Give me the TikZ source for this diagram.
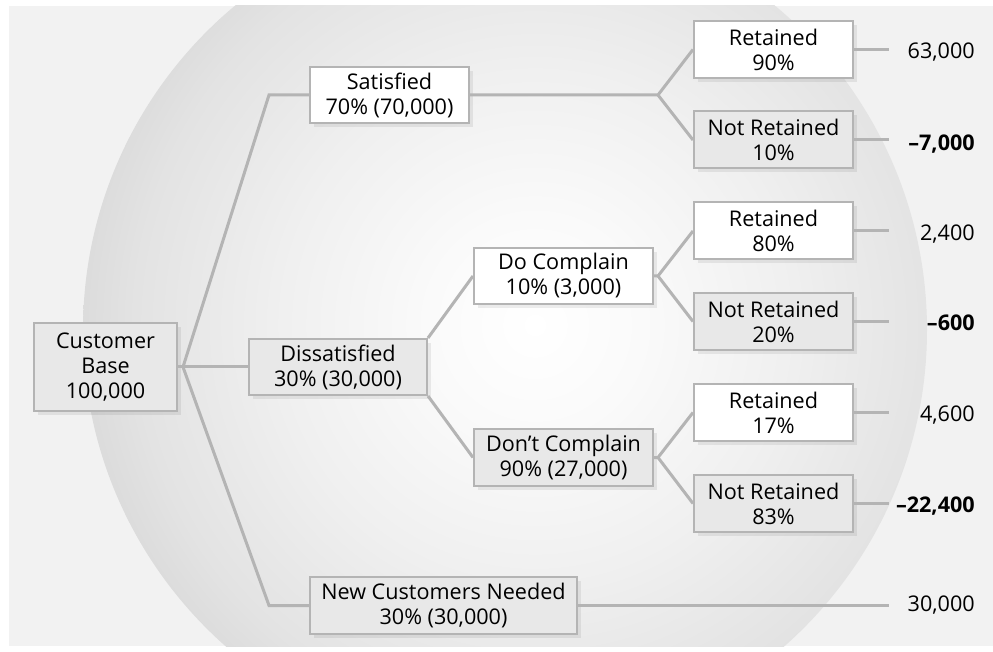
\documentclass[tikz,border=0pt]{standalone}
\usepackage{fontspec}
\setmainfont{Open Sans}
\usetikzlibrary{shadows,calc}

\definecolor{edgegray}{HTML}{B4B4B4}
\definecolor{boxgray}{HTML}{E8E8E8}
\definecolor{pagegray}{HTML}{F2F2F2}

% soft glow behind the tree: bright centre fading to a grey rim
\pgfdeclareradialshading{bgglow}{\pgfpoint{0bp}{0bp}}{%
  color(0bp)=(white);
  color(6bp)=(white!98!black);
  color(14bp)=(white!94!black);
  color(22bp)=(white!89!black);
  color(25bp)=(white!86!black);
  color(50bp)=(white!86!black)}

\begin{document}
\begin{tikzpicture}[x=0.75pt,y=-0.75pt,
  txt/.style={font=\fontsize{16.2}{18.75}\selectfont, text=black},
  box/.style={txt, draw=edgegray, line width=1.5pt, align=center,
    inner sep=0pt, fill=white,
    drop shadow={shadow xshift=3pt, shadow yshift=-3pt, fill=black, opacity=0.07}},
  wbox/.style={box, fill=white},
  gbox/.style={box, fill=boxgray},
  link/.style={draw=edgegray, line width=2.25pt, line join=miter},
  val/.style={txt, anchor=east, inner sep=0pt},
  neg/.style={val, font=\fontsize{16.2}{18.75}\selectfont\bfseries}]

% frame and background
\useasboundingbox (0,0) rectangle (993,652);
\fill[pagegray] (9,6) rectangle (993,646);
\begin{scope}
  \clip (9,6) rectangle (993,646);
  \clip (505,330) circle (422);
  \shade[shading=bgglow] (535,325) circle (455);
\end{scope}

% tree nodes
\node[gbox, minimum width=143*0.75pt, minimum height=88*0.75pt] (cb) at (105.5,367) {Customer\\Base\\100,000};
\node[wbox, minimum width=159*0.75pt, minimum height=56*0.75pt] (sat) at (389.5,95) {Satisfied\\70\% (70,000)};
\node[gbox, minimum width=178*0.75pt, minimum height=56*0.75pt] (dis) at (338,367) {Dissatisfied\\30\% (30,000)};
\node[gbox, minimum width=267*0.75pt, minimum height=57*0.75pt] (new) at (443.5,605.5) {New Customers Needed\\30\% (30,000)};
\node[wbox, minimum width=179*0.75pt, minimum height=56*0.75pt] (dc) at (563.5,276) {Do Complain\\10\% (3,000)};
\node[gbox, minimum width=179*0.75pt, minimum height=57*0.75pt] (dn) at (563.5,457.5) {Don’t Complain\\90\% (27,000)};

\tikzset{leaf/.style={minimum width=159*0.75pt, minimum height=57*0.75pt}}
\node[wbox, leaf] (r1) at (773.5,49.5)  {Retained\\90\%};
\node[gbox, leaf] (n1) at (773.5,140)   {Not Retained\\10\%};
\node[wbox, leaf] (r2) at (773.5,231)   {Retained\\80\%};
\node[gbox, leaf] (n2) at (773.5,321.5) {Not Retained\\20\%};
\node[wbox, leaf] (r3) at (773.5,412.5) {Retained\\17\%};
\node[gbox, leaf] (n3) at (773.5,503.5) {Not Retained\\83\%};

% outcome figures
\node[val] (v1) at (975,52)  {63,000};
\node[neg] (w1) at (975,144) {–7,000};
\node[val] (v2) at (975,234) {2,400};
\node[neg] (w2) at (975,323) {–600};
\node[val] (v3) at (975,415) {4,600};
\node[neg] (w3) at (975,506) {–22,400};
\node[val] (v4) at (975,605) {30,000};

% branch points
\coordinate (j0) at ($(cb.east)+(5,0)$);
\coordinate (j1) at (658,95);
\coordinate (j2) at ($(dc.east)+(4,0)$);
\coordinate (j3) at ($(dn.east)+(4,0)$);
\coordinate (vx) at (889,0);

% connectors
\path[link] (cb.east) -- (j0);
\path[link] (j0) -- ([xshift=-30pt]sat.west) -- (sat.west);
\path[link] (j0) -- (dis.west);
\path[link] (j0) -- ([xshift=-30pt]new.west) -- (new.west);
\path[link] (sat.east) -- (j1) -- (r1.west);
\path[link] (j1) -- (n1.west);
\path[link] (dis.north east) -- (dc.west);
\path[link] (dis.south east) -- (dn.west);
\path[link] (dc.east) -- (j2) -- (r2.west);
\path[link] (j2) -- (n2.west);
\path[link] (dn.east) -- (j3) -- (r3.west);
\path[link] (j3) -- (n3.west);
\foreach \b in {r1,n1,r2,n2,r3,n3,new}
  \path[link] (\b.east) -- (\b.east -| vx);
\end{tikzpicture}
\end{document}
